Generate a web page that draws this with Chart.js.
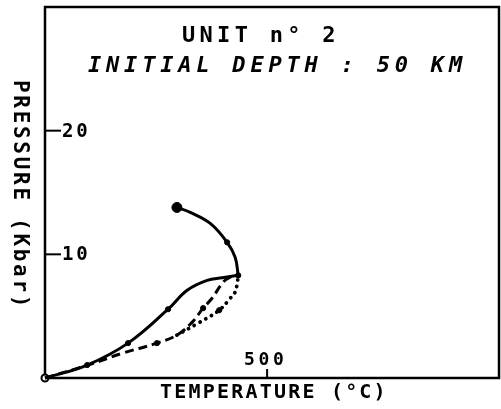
<!DOCTYPE html>
<html>
<head>
<meta charset="utf-8">
<script src="https://cdn.jsdelivr.net/npm/chart.js@4/dist/chart.umd.min.js"></script>
<style>
    html, body { margin: 0; padding: 0; background: #fff; overflow: hidden; }
    #wrap { width: 501px; height: 409px; position: relative; }
</style>
</head>
<body>
<div id="wrap"><canvas id="ptChart"></canvas></div>
<script>
// P-T path, unit 2 (temperature in °C, pressure in kbar)
// prograde branch up to the thermal peak
const tempPrograde = [0, 95, 187, 277, 320, 365, 399, 435];
const presPrograde = [0, 1.05, 2.82, 5.56, 7.1, 7.9, 8.1, 8.3];
// branch from the peak back to the final point
const tempRetro = [435, 428, 410, 372, 327, 297];
const presRetro = [8.3, 9.76, 10.97, 12.5, 13.39, 13.79];
// dashed path
const tempDashed = [0, 97, 176, 252, 297, 331, 356, 376, 401, 417, 435];
const presDashed = [0, 1.05, 2.02, 2.82, 3.47, 4.5, 5.65, 6.45, 7.74, 8.15, 8.3];
// dotted path
const tempDotted = [297, 345, 392, 417, 428, 432, 435];
const presDotted = [3.47, 4.44, 5.48, 6.45, 6.94, 7.5, 8.3];
// time steps marked along the paths
const tempSteps = [95, 187, 277, 435, 410, 252, 356, 392];
const presSteps = [1.05, 2.82, 5.56, 8.3, 10.97, 2.82, 5.65, 5.48];
const tempStart = [0];
const presStart = [0];
const tempEnd = [297];
const presEnd = [13.79];

const yTicks = [10, 20];
const xTicks = [500];

const zip = (xs, ys) => xs.map((x, i) => ({ x: x, y: ys[i] }));

const MONO = '"DejaVu Sans Mono", "Liberation Mono", monospace';

// plotter style frame, ticks and lettering
const plotterDecor = {
    id: 'plotterDecor',
    beforeDatasetsDraw(chart) {
        const ctx = chart.ctx;
        const a = chart.chartArea;
        const xs = chart.scales.x;
        const ys = chart.scales.y;
        ctx.save();
        ctx.strokeStyle = '#000';
        ctx.lineWidth = 2.5;
        ctx.strokeRect(a.left, a.top, a.right - a.left, a.bottom - a.top);

        // inside tick marks
        ctx.lineWidth = 2;
        yTicks.forEach(v => {
            const py = ys.getPixelForValue(v);
            ctx.beginPath();
            ctx.moveTo(a.left, py);
            ctx.lineTo(a.left + 16, py);
            ctx.stroke();
        });
        xTicks.forEach(v => {
            const px = xs.getPixelForValue(v);
            ctx.beginPath();
            ctx.moveTo(px, a.bottom);
            ctx.lineTo(px, a.bottom - 9);
            ctx.stroke();
        });
        ctx.restore();
    },
    afterDraw(chart) {
        const ctx = chart.ctx;
        const a = chart.chartArea;
        const xs = chart.scales.x;
        const ys = chart.scales.y;
        ctx.save();
        ctx.fillStyle = '#000';
        ctx.textAlign = 'left';
        ctx.textBaseline = 'alphabetic';

        // title lines
        ctx.font = 'bold 22px ' + MONO;
        ctx.letterSpacing = '4.3px';
        ctx.fillText('UNIT n° 2', a.left + 137, a.top + 35);
        ctx.font = 'oblique bold 22px ' + MONO;
        ctx.letterSpacing = '4.8px';
        ctx.fillText('INITIAL DEPTH : 50 KM', a.left + 43, a.top + 65);

        // y tick labels
        ctx.font = 'bold 19px ' + MONO;
        ctx.letterSpacing = '2.8px';
        ctx.textBaseline = 'middle';
        yTicks.forEach(v => {
            ctx.fillText(String(v), a.left + 17, ys.getPixelForValue(v) + 1);
        });

        // x tick labels
        ctx.font = 'bold 18px ' + MONO;
        ctx.letterSpacing = '3.6px';
        ctx.textBaseline = 'alphabetic';
        xTicks.forEach(v => {
            ctx.fillText(String(v), xs.getPixelForValue(v) - 23, a.bottom - 13);
        });

        // x axis title
        ctx.font = 'bold 20px ' + MONO;
        ctx.letterSpacing = '2.2px';
        ctx.fillText('TEMPERATURE (°C)', 160, a.bottom + 20);

        // y axis title, read top to bottom
        ctx.font = 'bold 21px ' + MONO;
        ctx.letterSpacing = '2.7px';
        ctx.translate(14, 80);
        ctx.rotate(Math.PI / 2);
        ctx.fillText('PRESSURE (Kbar)', 0, 0);
        ctx.restore();
    }
};

const lineBase = {
    showLine: true,
    borderColor: '#000',
    borderWidth: 3,
    pointRadius: 0,
    tension: 0.4,
    fill: false,
    clip: false
};

new Chart(document.getElementById('ptChart').getContext('2d'), {
    type: 'scatter',
    data: {
        datasets: [
            Object.assign({}, lineBase, { label: 'prograde', data: zip(tempPrograde, presPrograde) }),
            Object.assign({}, lineBase, { label: 'retrograde', data: zip(tempRetro, presRetro) }),
            Object.assign({}, lineBase, {
                label: 'dashed', data: zip(tempDashed, presDashed),
                borderDash: [9, 5]
            }),
            Object.assign({}, lineBase, {
                label: 'dotted', data: zip(tempDotted, presDotted),
                borderDash: [0.1, 6.5], borderCapStyle: 'round', borderWidth: 3.8
            }),
            {
                label: 'steps', data: zip(tempSteps, presSteps), showLine: false,
                pointRadius: 2.6, backgroundColor: '#000', borderColor: '#000', clip: false
            },
            {
                label: 'start', data: zip(tempStart, presStart), showLine: false,
                pointRadius: 3.5, borderWidth: 2, backgroundColor: '#fff', borderColor: '#000', clip: false
            },
            {
                label: 'end', data: zip(tempEnd, presEnd), showLine: false,
                pointRadius: 5, backgroundColor: '#000', borderColor: '#000', clip: false
            }
        ]
    },
    options: {
        responsive: true,
        maintainAspectRatio: false,
        animation: false,
        layout: { autoPadding: false, padding: { left: 45, top: 7, right: 2, bottom: 31 } },
        plugins: {
            legend: { display: false },
            tooltip: { enabled: false }
        },
        scales: {
            x: { type: 'linear', min: 0, max: 1022, display: false },
            y: { type: 'linear', min: 0, max: 30, display: false }
        }
    },
    plugins: [plotterDecor]
});
</script>
</body>
</html>
